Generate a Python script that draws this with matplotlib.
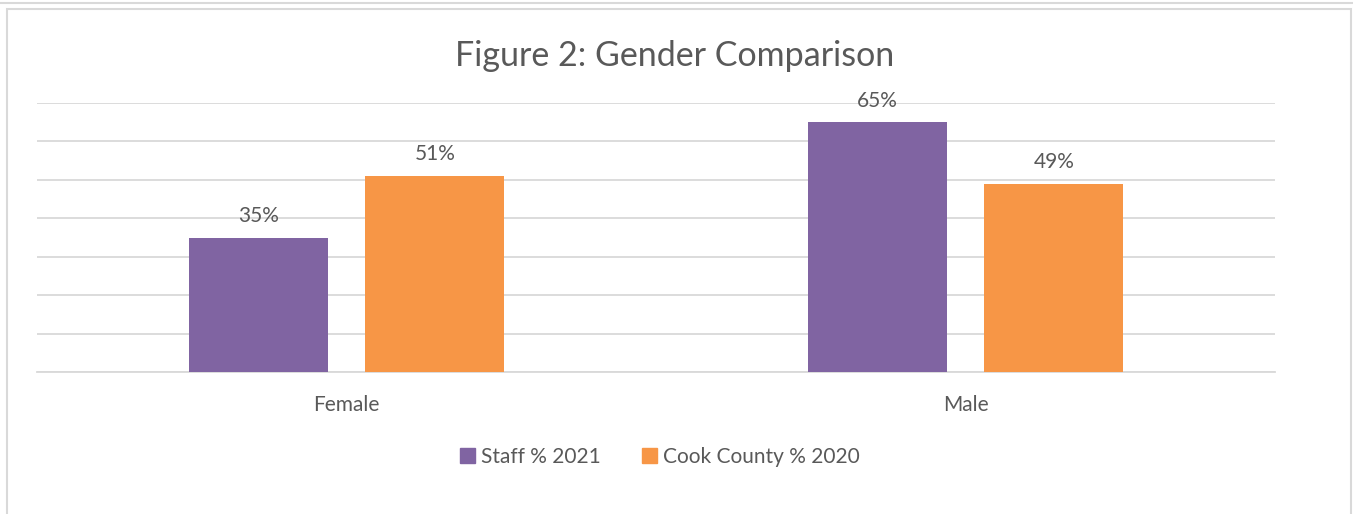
import matplotlib.pyplot as plt
import numpy as np
from matplotlib.patches import Rectangle, Patch

categories = ["Female", "Male"]
staff_2021 = [0.35, 0.65]
cook_2020 = [0.51, 0.49]
series_names = ["Staff % 2021", "Cook County % 2020"]
colors = ["#8064a2", "#f79646"]

plt.rcParams["font.family"] = ["Lato", "DejaVu Sans"]
TXT = "#595959"

fig = plt.figure(figsize=(13.53, 5.14), dpi=100)
ax = fig.add_axes([37 / 1353, 1 - 372 / 514, 1238 / 1353, 269 / 514])

x = np.arange(len(categories))
w = 0.2245
off = 0.1428
for vals, dx, c in ((staff_2021, -off, colors[0]), (cook_2020, off, colors[1])):
    bars = ax.bar(x + dx, vals, w, color=c, zorder=3)
    for b, v in zip(bars, vals):
        ax.text(b.get_x() + b.get_width() / 2, v + 0.03, f"{v:.0%}",
                ha="center", va="bottom", fontsize=15, color=TXT)

ax.set_xlim(-0.5, 1.5)
ax.set_ylim(0, 0.70)
ax.set_yticks(np.arange(0, 0.71, 0.1))
ax.yaxis.grid(True, color="#d9d9d9", lw=1.3)
ax.tick_params(left=False, labelleft=False, bottom=False)
ax.set_xticks(x)
ax.set_xticklabels(categories, fontsize=15, color=TXT)
ax.tick_params(axis="x", pad=13)
for s in ("top", "right", "left"):
    ax.spines[s].set_visible(False)
ax.spines["bottom"].set_color("#d9d9d9")
ax.spines["bottom"].set_linewidth(1.3)

fig.text(675 / 1353, 1 - 56 / 514, "Figure 2: Gender Comparison",
         ha="center", va="center", fontsize=24.5, color=TXT)

handles = [Patch(color=c, label=n) for c, n in zip(colors, series_names)]
fig.legend(handles=handles, loc="center", bbox_to_anchor=(660 / 1353, 1 - 457 / 514),
           ncol=2, frameon=False, fontsize=15, labelcolor=TXT,
           handlelength=0.7, handleheight=0.7, handletextpad=0.3, columnspacing=2.0)

# chart frame
fig.patches.append(Rectangle((7 / 1353, -0.05), 1344 / 1353, 1.05 - 9 / 514,
                             transform=fig.transFigure, fill=False,
                             edgecolor="#d9d9d9", lw=1.5))
fig.add_artist(plt.Line2D([0, 1], [1 - 3 / 514] * 2, color="#d9d9d9", lw=1.5))

fig.savefig("out.png", dpi=100)
